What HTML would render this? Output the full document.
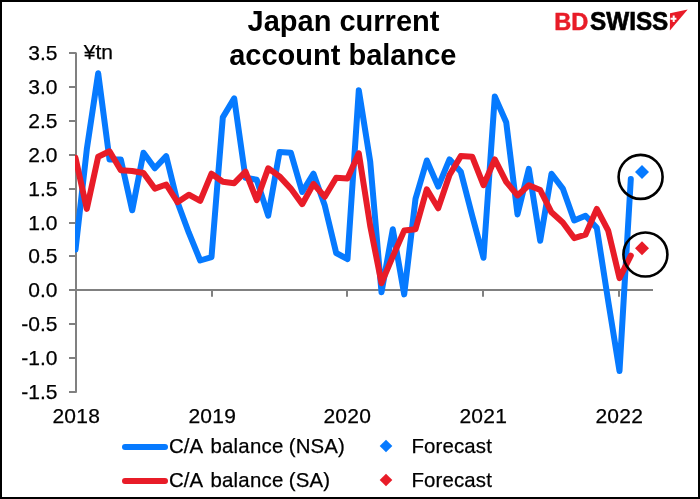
<!DOCTYPE html>
<html><head><meta charset="utf-8"><title>Japan current account balance</title>
<style>
html,body{margin:0;padding:0;background:#fff;}
body{width:700px;height:499px;overflow:hidden;position:relative;font-family:"Liberation Sans",sans-serif;}
svg{position:absolute;left:0;top:0;display:block;will-change:transform;}
text{font-family:"Liberation Sans",sans-serif;}
</style></head><body>
<svg width="700" height="499" viewBox="0 0 700 499">
<rect x="0" y="0" width="700" height="499" fill="#fff"/>
<g font-weight="bold" font-size="29px" fill="#000" text-anchor="middle">
<text x="343.5" y="31">Japan current</text>
<text x="342.8" y="65.2">account balance</text>
</g>
<g font-weight="bold" font-size="23.6px">
<text x="554.3" y="29.7" fill="#e81c28" stroke="#e81c28" stroke-width="0.5">BD</text>
<text transform="translate(590.0,29.8) scale(1.03,1.055)" x="0" y="0" fill="#000" stroke="#000" stroke-width="0.6">SWISS</text>
</g>
<path d="M687.7,9.5 L670,13.2 L669.9,30.6 Z" fill="#e81c28"/>
<path d="M670.5,18.8 h5.9 M673.7,15.6 v6.4" stroke="#fff" stroke-width="2" fill="none"/>
<g stroke="#808080" stroke-width="2" fill="none">
<line x1="76" x2="76" y1="52.4" y2="392.8"/>
<line x1="76" x2="653" y1="290" y2="290"/>
<line x1="69" x2="76" y1="392" y2="392"/><line x1="69" x2="76" y1="358" y2="358"/><line x1="69" x2="76" y1="324" y2="324"/><line x1="69" x2="76" y1="290" y2="290"/><line x1="69" x2="76" y1="256" y2="256"/><line x1="69" x2="76" y1="223" y2="223"/><line x1="69" x2="76" y1="189" y2="189"/><line x1="69" x2="76" y1="155" y2="155"/><line x1="69" x2="76" y1="121" y2="121"/><line x1="69" x2="76" y1="87" y2="87"/><line x1="69" x2="76" y1="53" y2="53"/>
<line x1="212" x2="212" y1="290" y2="296.7"/><line x1="347" x2="347" y1="290" y2="296.7"/><line x1="483" x2="483" y1="290" y2="296.7"/><line x1="619" x2="619" y1="290" y2="296.7"/>
</g>
<g font-size="21px" fill="#000" stroke="#000" stroke-width="0.25">
<text x="57.5" y="398.6" text-anchor="end">-1.5</text><text x="57.5" y="364.6" text-anchor="end">-1.0</text><text x="57.5" y="330.6" text-anchor="end">-0.5</text><text x="57.5" y="296.6" text-anchor="end">0.0</text><text x="57.5" y="262.6" text-anchor="end">0.5</text><text x="57.5" y="229.6" text-anchor="end">1.0</text><text x="57.5" y="195.6" text-anchor="end">1.5</text><text x="57.5" y="161.6" text-anchor="end">2.0</text><text x="57.5" y="127.6" text-anchor="end">2.5</text><text x="57.5" y="93.6" text-anchor="end">3.0</text><text x="57.5" y="59.6" text-anchor="end">3.5</text>
<text x="76.3" y="422.6" text-anchor="middle" letter-spacing="0.25">2018</text><text x="212.3" y="422.6" text-anchor="middle" letter-spacing="0.25">2019</text><text x="347.3" y="422.6" text-anchor="middle" letter-spacing="0.25">2020</text><text x="483.3" y="422.6" text-anchor="middle" letter-spacing="0.25">2021</text><text x="619.3" y="422.6" text-anchor="middle" letter-spacing="0.25">2022</text>
<text x="83.8" y="58.6">¥tn</text>
</g>
<clipPath id="pc"><rect x="75" y="40" width="600" height="360"/></clipPath>
<g clip-path="url(#pc)">
<path d="M75.5,249.6 L86.8,149.3 L98.2,73.3 L109.5,159.4 L120.8,159.4 L132.2,210.3 L143.5,152.7 L154.8,168.3 L166.2,156.1 L177.5,202.2 L188.8,232.7 L200.2,260.5 L211.5,257.1 L222.8,117.4 L234.2,98.4 L245.5,177.8 L256.8,179.8 L268.2,215.7 L279.5,152.0 L290.8,152.7 L302.2,192.0 L313.5,173.7 L324.8,205.6 L336.2,253.0 L347.5,259.1 L358.8,90.3 L370.2,161.5 L381.5,292.3 L392.8,229.3 L404.2,294.4 L415.5,198.8 L426.8,160.5 L438.2,186.6 L449.5,159.4 L460.8,171.7 L472.2,215.7 L483.5,257.8 L494.8,96.4 L506.2,122.2 L517.5,214.4 L528.8,168.9 L540.2,240.8 L551.5,173.7 L562.8,188.6 L574.2,220.5 L585.5,215.7 L596.8,227.9 L608.2,301.1 L619.5,371.0 L630.8,179.1" fill="none" stroke="#067aff" stroke-width="6" stroke-linejoin="round" stroke-linecap="round"/>
<path d="M75.5,157.8 L86.8,208.9 L98.2,156.7 L109.5,151.3 L120.8,170.3 L132.2,171.0 L143.5,173.0 L154.8,188.6 L166.2,184.5 L177.5,202.2 L188.8,194.7 L200.2,200.8 L211.5,173.7 L222.8,181.8 L234.2,183.2 L245.5,171.7 L256.8,200.1 L268.2,168.3 L279.5,176.4 L290.8,188.6 L302.2,204.2 L313.5,183.9 L324.8,196.7 L336.2,177.8 L347.5,178.4 L358.8,153.3 L370.2,225.9 L381.5,283.2 L392.8,256.4 L404.2,230.6 L415.5,229.3 L426.8,189.3 L438.2,208.3 L449.5,175.0 L460.8,156.1 L472.2,156.7 L483.5,185.2 L494.8,159.4 L506.2,181.8 L517.5,195.4 L528.8,185.2 L540.2,190.0 L551.5,212.3 L562.8,222.5 L574.2,238.1 L585.5,234.7 L596.8,208.9 L608.2,230.6 L619.5,278.1 L630.8,255.7" fill="none" stroke="#e81c28" stroke-width="6" stroke-linejoin="round" stroke-linecap="round"/>
</g>
<path d="M642.0,165.1 l7.0,7.0 l-7.0,7.0 l-7.0,-7.0 z" fill="#067aff"/>
<path d="M642.0,241.2 l7.0,7.0 l-7.0,7.0 l-7.0,-7.0 z" fill="#e81c28"/>
<circle cx="640.6" cy="176.9" r="22" fill="none" stroke="#000" stroke-width="2.6"/>
<circle cx="645.4" cy="254.5" r="22" fill="none" stroke="#000" stroke-width="2.6"/>
<line x1="125" x2="165" y1="447" y2="447" stroke="#067aff" stroke-width="6" stroke-linecap="round"/>
<line x1="125" x2="165" y1="481" y2="481" stroke="#e81c28" stroke-width="6" stroke-linecap="round"/>
<path d="M386.0,439.7 l6.3,6.3 l-6.3,6.3 l-6.3,-6.3 z" fill="#067aff"/>
<path d="M386.0,473.7 l6.3,6.3 l-6.3,6.3 l-6.3,-6.3 z" fill="#e81c28"/>
<g font-size="20.4px" fill="#000" stroke="#000" stroke-width="0.25">
<text y="453.4"><tspan x="169">C/A</tspan><tspan x="210.5" letter-spacing="0.22">balance</tspan><tspan x="288.8" letter-spacing="0.15">(NSA)</tspan></text>
<text y="487.4"><tspan x="169">C/A</tspan><tspan x="210.5" letter-spacing="0.22">balance</tspan><tspan x="288.8" letter-spacing="0.15">(SA)</tspan></text>
<text x="411.5" y="453.4" letter-spacing="0.15">Forecast</text>
<text x="411.5" y="487.4" letter-spacing="0.15">Forecast</text>
</g>
<path d="M1,1 H699 V498 H1 Z" fill="none" stroke="#000" stroke-width="2"/>
</svg>
</body></html>
